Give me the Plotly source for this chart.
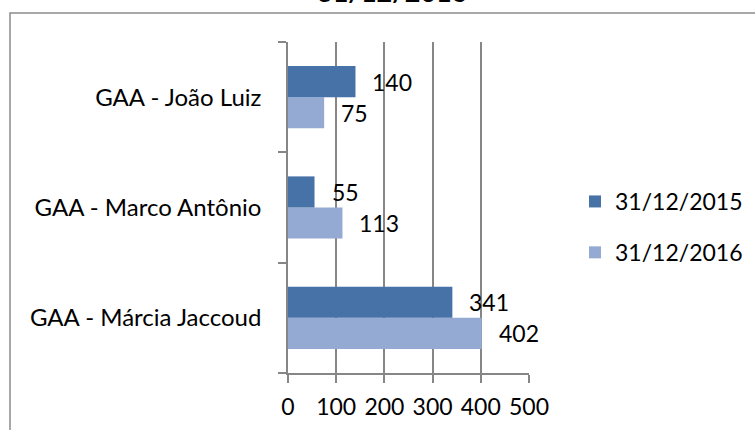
import plotly.graph_objects as go

# Categories listed bottom-to-top as they appear on the axis
categories = ["GAA - Márcia Jaccoud", "GAA - Marco Antônio", "GAA - João Luiz"]
values_2015 = [341, 55, 140]
values_2016 = [402, 113, 75]
series_names = ["31/12/2015", "31/12/2016"]
x_ticks = [0, 100, 200, 300, 400, 500]
title_text = "31/12/2016"

dark_blue = "#4672A7"
light_blue = "#95AAD2"
axis_gray = "#868686"
font_family = "Lato, 'Open Sans', sans-serif"
label_size = 24
number_size = 23

fig = go.Figure()

# 2016 is added first so that 2015 sits above it inside each group
fig.add_trace(go.Bar(
    y=categories, x=values_2016, name=series_names[1], orientation="h",
    marker=dict(color=light_blue, line=dict(width=0)),
    legendgroup="b", legendrank=2,
))
fig.add_trace(go.Bar(
    y=categories, x=values_2015, name=series_names[0], orientation="h",
    marker=dict(color=dark_blue, line=dict(width=0)),
    legendgroup="a", legendrank=1,
))

# Value labels placed just right of each bar end
annotations = []
for cat, v15, v16 in zip(categories, values_2015, values_2016):
    annotations.append(dict(x=v15, y=cat, xref="x", yref="y", text=str(v15),
                            showarrow=False, xanchor="left", yanchor="middle",
                            xshift=15, yshift=15.5,
                            font=dict(size=number_size, color="#000000", family=font_family)))
    annotations.append(dict(x=v16, y=cat, xref="x", yref="y", text=str(v16),
                            showarrow=False, xanchor="left", yanchor="middle",
                            xshift=15, yshift=-15.5,
                            font=dict(size=number_size, color="#000000", family=font_family)))

# Chart title, mostly above the visible page
annotations.append(dict(x=(392 - 288) / 241, y=1 + (42 - 10) / 331, xref="paper", yref="paper",
                        text="<b>" + title_text + "</b>", showarrow=False,
                        xanchor="center", yanchor="bottom",
                        font=dict(size=27, color="#000000", family=font_family)))

fig.update_layout(
    width=755, height=430,
    margin=dict(l=288, r=226, t=42, b=57, pad=0, autoexpand=False),
    paper_bgcolor="white", plot_bgcolor="white",
    barmode="group", bargap=0.436, bargroupgap=0,
    font=dict(family=font_family, size=number_size, color="#000000"),
    showlegend=True,
    legend=dict(x=(575 - 288) / 241, y=1 - (180 - 42) / 331, xanchor="left", yanchor="top",
                tracegroupgap=18, font=dict(size=number_size, family=font_family),
                bgcolor="rgba(0,0,0,0)", itemclick=False),
    annotations=annotations,
    shapes=[dict(type="rect", xref="paper", yref="paper",
                 x0=(10 - 288) / 241, x1=(780 - 288) / 241,
                 y0=(373 - 460) / 331, y1=1 + (42 - 13) / 331,
                 line=dict(color="#8C8C8C", width=1.5), fillcolor="rgba(0,0,0,0)",
                 layer="below")],
)

fig.update_xaxes(
    range=[0, 500], tickvals=x_ticks, ticktext=[str(t) for t in x_ticks],
    showgrid=True, gridcolor=axis_gray, gridwidth=1.5,
    showline=True, linecolor=axis_gray, linewidth=1.5,
    ticks="outside", ticklen=8, tickcolor=axis_gray, tickwidth=1.5,
    zeroline=False, tickfont=dict(size=number_size, family=font_family),
    ticklabelstandoff=5, fixedrange=True,
)
fig.update_yaxes(
    type="category", categoryorder="array", categoryarray=categories,
    tickson="boundaries", showgrid=False,
    showline=True, linecolor=axis_gray, linewidth=1.5,
    ticks="outside", ticklen=8, tickcolor=axis_gray, tickwidth=1.5,
    tickfont=dict(size=label_size, family=font_family),
    ticklabelstandoff=20, fixedrange=True,
)

fig.write_html("out.html", config={"displayModeBar": False})
